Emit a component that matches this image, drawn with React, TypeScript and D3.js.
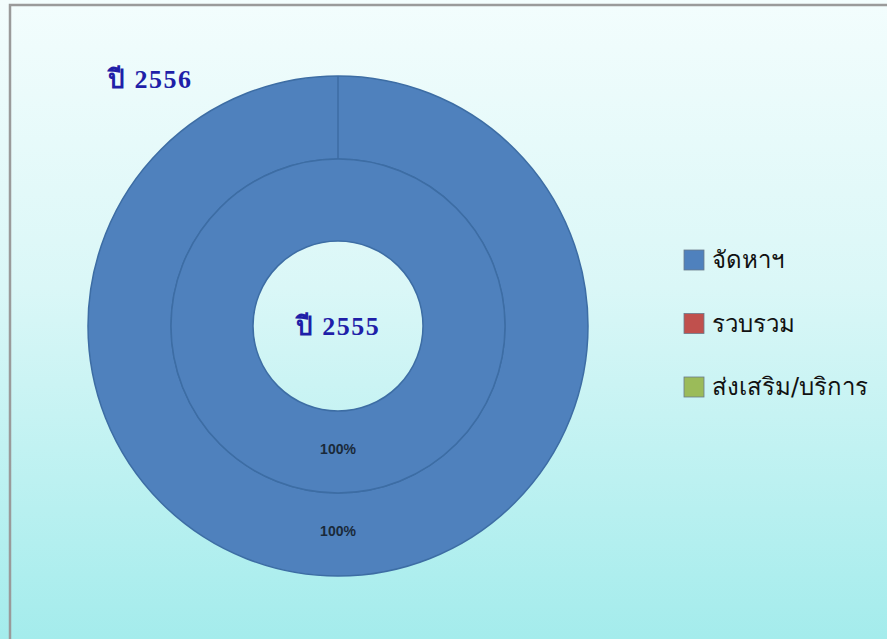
import React from "react";
import * as d3 from "d3";

const categories = ["จัดหาฯ", "รวบรวม", "ส่งเสริม/บริการ"];
const colors = ["#4f81bd", "#c0504d", "#9bbb59"];
const values2555 = [100, 0, 0];
const values2556 = [100, 0, 0];
const ringTitles = ["ปี 2555", "ปี 2556"];

const W = 887;
const H = 639;
const cx = 338;
const cy = 326;

const Ring = ({ values, inner, outer, showEdge }) => {
  const total = d3.sum(values);
  const pie = d3.pie().value(d => d).sort(null)(values);
  const arc = d3.arc().innerRadius(inner).outerRadius(outer);
  return (
    <g>
      {pie.map((p, i) =>
        p.value > 0 ? (
          <path key={i} d={arc(p)} fill={colors[i]} stroke="#3d6da4" strokeWidth="1.5" />
        ) : null
      )}
      {showEdge &&
        pie.filter(p => p.value > 0).map((p, i) => (
          <line
            key={"e" + i}
            x1={inner * Math.sin(p.startAngle)}
            y1={-inner * Math.cos(p.startAngle)}
            x2={outer * Math.sin(p.startAngle)}
            y2={-outer * Math.cos(p.startAngle)}
            stroke="#3d6da4"
            strokeWidth="1.5"
          />
        ))}
      {pie.map((p, i) => {
        if (p.value <= 0) return null;
        let c = arc.centroid(p);
        if (p.endAngle - p.startAngle >= 2 * Math.PI - 1e-6) {
          // full circle: Excel puts the label at the bottom
          c = [0, (inner + outer) / 2 - 3];
        }
        return (
          <text
            key={"t" + i}
            x={c[0]}
            y={c[1]}
            dy="0.35em"
            textAnchor="middle"
            fontFamily="Arial, 'Liberation Sans', sans-serif"
            fontWeight="bold"
            fontSize="14"
            fill="#1a2a3a"
          >
            {d3.format(".0%")(p.value / total)}
          </text>
        );
      })}
    </g>
  );
};

export default function App() {
  const legendY = d3.scalePoint().domain(categories).range([260, 387]);
  return (
    <div style={{ position: "fixed", left: 0, top: 0 }}>
      <svg width={W} height={H} style={{ display: "block" }}>
        <defs>
          <linearGradient id="bg" x1="0" y1="0" x2="0" y2="1">
            <stop offset="0%" stopColor="#f3fdfd" />
            <stop offset="45%" stopColor="#daf7f7" />
            <stop offset="100%" stopColor="#a4ecec" />
          </linearGradient>
        </defs>
        <rect x={0} y={0} width={W} height={H} fill="url(#bg)" />
        <path d={`M10,${H} L10,5 L${W},5`} fill="none" stroke="#9a9a9a" strokeWidth="2.5" />
        <g transform={`translate(${cx},${cy})`}>
          <Ring values={values2556} inner={167} outer={250} showEdge={true} />
          <Ring values={values2555} inner={85} outer={167} showEdge={false} />
        </g>
        <text
          x={cx}
          y={335}
          textAnchor="middle"
          fontFamily="'Liberation Serif', 'Times New Roman', serif"
          fontWeight="bold"
          fontSize="26"
          letterSpacing="1.5"
          fill="#1f1fa8"
        >
          {ringTitles[0]}
        </text>
        <text
          x={108}
          y={88}
          fontFamily="'Liberation Serif', 'Times New Roman', serif"
          fontWeight="bold"
          fontSize="26"
          letterSpacing="1.5"
          fill="#1f1fa8"
        >
          {ringTitles[1]}
        </text>
        {categories.map((c, i) => (
          <g key={c} transform={`translate(684,${legendY(c)})`}>
            <rect x={0} y={-10} width={20} height={20} fill={colors[i]} stroke="#6a7a8a" strokeWidth="0.8" />
            <text x={28} y={0} dy="0.35em" fontFamily="Tahoma, 'DejaVu Sans', sans-serif" fontSize="24" fill="#111">
              {c}
            </text>
          </g>
        ))}
      </svg>
    </div>
  );
}
